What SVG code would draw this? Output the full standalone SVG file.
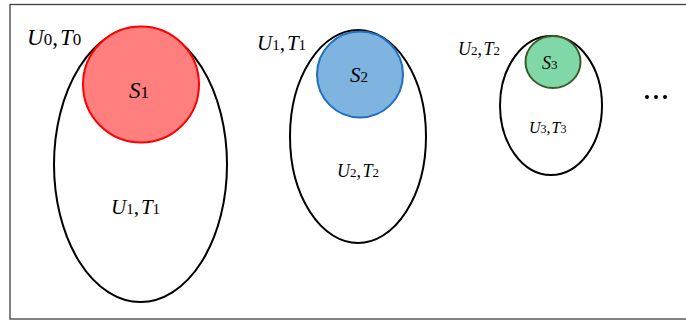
<svg xmlns="http://www.w3.org/2000/svg" width="686" height="323" viewBox="0 0 686 323">
<style>
.lbl{font-family:"Liberation Serif","Times New Roman",serif;fill:#000}
.it{font-style:italic}
.outer{fill:none;stroke:#000;stroke-width:2}
</style>
<rect x="0" y="0" width="686" height="323" fill="#fff"/>
<rect x="10" y="4.5" width="690" height="314.5" fill="none" stroke="#404040" stroke-width="1.3"/>
<g id="set1">
<ellipse class="outer" cx="140.5" cy="164.5" rx="86.5" ry="137.5"/>
<circle cx="141" cy="84.5" r="58" fill="#FF7F7F" stroke="#FF0000" stroke-width="2"/>
<text class="lbl" x="27" y="45" font-size="23"><tspan class="it">U</tspan><tspan font-size="17">0</tspan>,<tspan class="it" dx="2">T</tspan><tspan font-size="17">0</tspan></text>
<text class="lbl" x="129" y="98" font-size="23"><tspan class="it">S</tspan><tspan font-size="17">1</tspan></text>
<text class="lbl" x="111" y="214" font-size="21"><tspan class="it">U</tspan><tspan font-size="15">1</tspan>,<tspan class="it" dx="2">T</tspan><tspan font-size="15">1</tspan></text>
</g>
<g id="set2">
<ellipse class="outer" cx="358" cy="136.5" rx="68" ry="106.5"/>
<circle cx="360" cy="74.5" r="43" fill="#7EB4DF" stroke="#1F6FBF" stroke-width="2"/>
<text class="lbl" x="257" y="50" font-size="21"><tspan class="it">U</tspan><tspan font-size="15">1</tspan>,<tspan class="it" dx="2">T</tspan><tspan font-size="15">1</tspan></text>
<text class="lbl" x="350" y="82" font-size="21"><tspan class="it">S</tspan><tspan font-size="15">2</tspan></text>
<text class="lbl" x="337" y="177" font-size="18"><tspan class="it">U</tspan><tspan font-size="13">2</tspan>,<tspan class="it" dx="1.5">T</tspan><tspan font-size="13">2</tspan></text>
</g>
<g id="set3">
<ellipse class="outer" cx="551" cy="105.5" rx="51" ry="69.5"/>
<ellipse cx="553" cy="62" rx="27.5" ry="26" fill="#80D8A8" stroke="#3A5A28" stroke-width="2"/>
<text class="lbl" x="458" y="55" font-size="18"><tspan class="it">U</tspan><tspan font-size="13">2</tspan>,<tspan class="it" dx="1.5">T</tspan><tspan font-size="13">2</tspan></text>
<text class="lbl" x="542" y="69" font-size="18"><tspan class="it">S</tspan><tspan font-size="13">3</tspan></text>
<text class="lbl" x="529" y="133" font-size="16"><tspan class="it">U</tspan><tspan font-size="12">3</tspan>,<tspan class="it" dx="1">T</tspan><tspan font-size="12">3</tspan></text>
</g>
<g id="ellipsis" fill="#000">
<circle cx="647" cy="97" r="2"/>
<circle cx="656" cy="97" r="2"/>
<circle cx="665" cy="97" r="2"/>
</g>
<g id="connectors"/>
</svg>
